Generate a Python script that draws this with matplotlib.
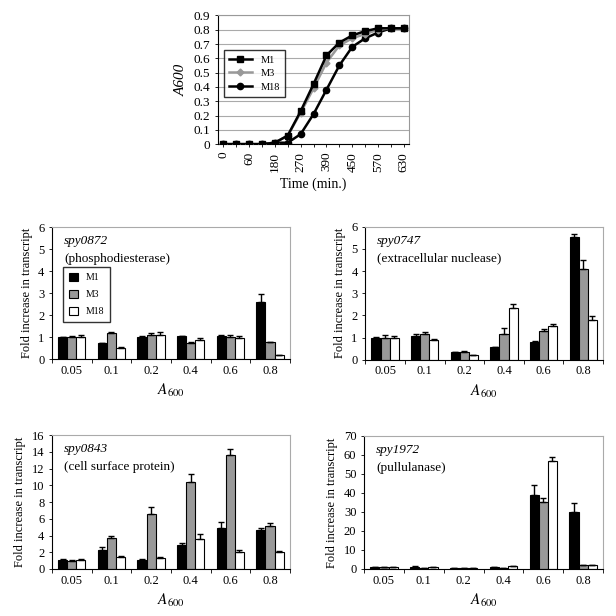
import numpy as np
import matplotlib.pyplot as plt

plt.rcParams['font.family'] = ['Liberation Serif', 'DejaVu Serif']
plt.rcParams['mathtext.fontset'] = 'stix'

# growth curve
times = [0, 30, 60, 120, 180, 240, 270, 330, 390, 420, 450, 510, 570, 600, 630]
growth_m1 = [0.0, 0.0, 0.0, 0.0, 0.01, 0.06, 0.23, 0.42, 0.62, 0.71, 0.76, 0.79, 0.81, 0.81, 0.81]
growth_m3 = [0.0, 0.0, 0.0, 0.0, 0.01, 0.06, 0.22, 0.39, 0.57, 0.69, 0.74, 0.77, 0.80, 0.81, 0.81]
growth_m18 = [0.0, 0.0, 0.0, 0.0, 0.01, 0.01, 0.07, 0.21, 0.38, 0.55, 0.68, 0.74, 0.78, 0.81, 0.81]

# bar panels
a600 = ['0.05', '0.1', '0.2', '0.4', '0.6', '0.8']

spy0872_m1 = [1.0, 0.75, 1.0, 1.05, 1.05, 2.6]
spy0872_m3 = [1.0, 1.18, 1.1, 0.75, 1.02, 0.77]
spy0872_m18 = [1.0, 0.5, 1.1, 0.87, 0.95, 0.2]
spy0872_m1_err = [0.02, 0.0, 0.03, 0.0, 0.05, 0.38]
spy0872_m3_err = [0.03, 0.04, 0.1, 0.03, 0.08, 0.0]
spy0872_m18_err = [0.12, 0.03, 0.12, 0.1, 0.1, 0.0]

spy0747_m1 = [1.0, 1.07, 0.35, 0.57, 0.8, 5.52]
spy0747_m3 = [0.97, 1.15, 0.33, 1.15, 1.3, 4.1]
spy0747_m18 = [1.0, 0.87, 0.2, 2.33, 1.52, 1.77]
spy0747_m1_err = [0.03, 0.08, 0.0, 0.0, 0.03, 0.15]
spy0747_m3_err = [0.15, 0.12, 0.07, 0.3, 0.1, 0.4]
spy0747_m18_err = [0.05, 0.05, 0.02, 0.2, 0.08, 0.2]

spy0843_m1 = [1.05, 2.3, 1.05, 2.9, 4.9, 4.6]
spy0843_m3 = [1.0, 3.75, 6.55, 10.4, 13.6, 5.1]
spy0843_m18 = [1.05, 1.45, 1.3, 3.6, 2.0, 2.0]
spy0843_m1_err = [0.1, 0.3, 0.1, 0.15, 0.7, 0.3]
spy0843_m3_err = [0.05, 0.25, 0.9, 0.9, 0.7, 0.4]
spy0843_m18_err = [0.1, 0.1, 0.15, 0.6, 0.25, 0.15]

spy1972_m1 = [1.0, 1.3, 0.6, 0.8, 39.0, 30.0]
spy1972_m3 = [0.8, 0.6, 0.5, 0.3, 35.0, 2.0]
spy1972_m18 = [0.8, 0.8, 0.7, 1.5, 57.0, 2.0]
spy1972_m1_err = [0.2, 0.3, 0.1, 0.4, 5.0, 4.5]
spy1972_m3_err = [0.0, 0.0, 0.0, 0.0, 2.5, 0.2]
spy1972_m18_err = [0.0, 0.0, 0.0, 0.2, 2.0, 0.2]

fig = plt.figure(figsize=(6.16, 6.16), dpi=100)

# top growth curve
ax = fig.add_axes([0.354, 0.766, 0.310, 0.209])
x = np.arange(len(times))
ax.plot(x, growth_m1, color='black', marker='s', ms=4.5, lw=1.8, label='M1', zorder=4)
ax.plot(x, growth_m3, color='#999999', marker='D', ms=3.5, lw=1.8, label='M3', zorder=3)
ax.plot(x, growth_m18, color='black', marker='o', ms=4.5, lw=1.8, label='M18', zorder=2)
ax.set_ylim(0, 0.9)
ax.set_yticks(np.arange(0, 0.91, 0.1))
ax.set_yticklabels(['0'] + ['%.1f' % v for v in np.arange(0.1, 0.91, 0.1)], fontsize=9.5)
ax.set_xlim(-0.4, len(times) - 0.6)
ax.set_xticks(x)
ax.set_xticklabels([str(t) if i % 2 == 0 else '' for i, t in enumerate(times)], rotation=90, fontsize=9.5)
ax.yaxis.grid(True, color='#aaaaaa', lw=0.8)
ax.set_axisbelow(True)
for s in ['top', 'right']:
    ax.spines[s].set_color('#999999')
ax.tick_params(length=2, width=0.6)
ax.set_xlabel('Time (min.)', fontsize=10)
ax.set_ylabel('A600', fontsize=11, style='italic')
leg = ax.legend(loc='upper left', bbox_to_anchor=(0.03, 0.73), borderaxespad=0, fontsize=7.5,
                frameon=True, fancybox=False, edgecolor='black', handlelength=2.2,
                borderpad=0.5, labelspacing=0.4)
leg.get_frame().set_linewidth(1.0)


def bar_panel(rect, m1, m3, m18, e1, e3, e18, ymax, ystep, gene, desc, legend=False):
    ax = fig.add_axes(rect)
    xs = np.arange(len(a600))
    w = 0.23
    for off, vals, errs, col, lab in [(-w, m1, e1, 'black', 'M1'),
                                      (0, m3, e3, '#999999', 'M3'),
                                      (w, m18, e18, 'white', 'M18')]:
        ax.bar(xs + off, vals, w, color=col, edgecolor='black', lw=0.8, label=lab,
               yerr=[np.zeros(len(errs)), errs], capsize=2,
               error_kw=dict(ecolor='black', elinewidth=1.0, capthick=1.0))
    ax.set_xlim(-0.5, len(a600) - 0.5)
    ax.set_ylim(0, ymax)
    ax.set_yticks(np.arange(0, ymax + 0.01, ystep))
    ax.set_xticks(xs)
    ax.set_xticklabels(a600, fontsize=9)
    ax.tick_params(axis='y', labelsize=9, length=2, width=0.6)
    ax.tick_params(axis='x', length=0, pad=4)
    ax.set_xticks(np.arange(-0.5, len(a600)), minor=True)
    ax.tick_params(axis='x', which='minor', length=3, width=0.6)
    for s in ['top', 'right']:
        ax.spines[s].set_color('#aaaaaa')
    ax.set_ylabel('Fold increase in transcript', fontsize=9)
    ax.set_xlabel(r'$A_{600}$', fontsize=11)
    ax.text(0.05, 0.87, gene, transform=ax.transAxes, fontsize=9.5, style='italic')
    ax.text(0.05, 0.74, desc, transform=ax.transAxes, fontsize=9.5)
    if legend:
        leg = ax.legend(loc='upper left', bbox_to_anchor=(0.045, 0.70), borderaxespad=0,
                        fontsize=7, fancybox=False, edgecolor='black', handlelength=1.0,
                        handleheight=1.0, labelspacing=0.75, borderpad=0.6)
        leg.get_frame().set_linewidth(1.0)
    return ax


bar_panel([0.0844, 0.417, 0.386, 0.214], spy0872_m1, spy0872_m3, spy0872_m18,
          spy0872_m1_err, spy0872_m3_err, spy0872_m18_err, 6, 1,
          'spy0872', '(phosphodiesterase)', legend=True)
bar_panel([0.593, 0.416, 0.386, 0.216], spy0747_m1, spy0747_m3, spy0747_m18,
          spy0747_m1_err, spy0747_m3_err, spy0747_m18_err, 6, 1,
          'spy0747', '(extracellular nuclease)')
bar_panel([0.0844, 0.0763, 0.386, 0.2175], spy0843_m1, spy0843_m3, spy0843_m18,
          spy0843_m1_err, spy0843_m3_err, spy0843_m18_err, 16, 2,
          'spy0843', '(cell surface protein)')
bar_panel([0.591, 0.0763, 0.388, 0.216], spy1972_m1, spy1972_m3, spy1972_m18,
          spy1972_m1_err, spy1972_m3_err, spy1972_m18_err, 70, 10,
          'spy1972', '(pullulanase)')

fig.savefig('out.png', dpi=100)
